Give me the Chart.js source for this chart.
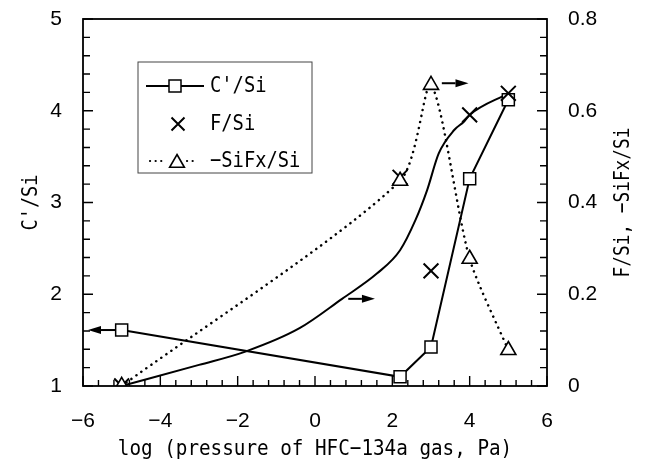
<!DOCTYPE html>
<html><head><meta charset="utf-8">
<script src="https://cdn.jsdelivr.net/npm/chart.js@4"></script>
<style>html,body{margin:0;padding:0;background:#fff}#wrap{width:647px;height:464px;position:relative}canvas{display:block}</style>
</head><body><div id="wrap"><canvas id="c" width="647" height="464" style="width:647px;height:464px"></canvas></div>
<script>
// ---- data ----
const pressureLog = [-5, 2.2, 3, 4, 5];
const cPrimeSi    = [1.61, 1.10, 1.425, 3.26, 4.12];
const fSi         = [0, 0.455, 0.251, 0.591, 0.638];
const siFxSi      = [0, 0.447, 0.656, 0.277, 0.078];
// hand-drawn trend curve through the F/Si data (right axis)
const fSiTrendX = [-5, -3, -1.8, -0.4, 0.7, 1.6, 2.2, 2.6, 2.9, 3.2, 3.6, 3.85, 4, 5];
const fSiTrendY = [0, 0.046, 0.075, 0.126, 0.19, 0.245, 0.296, 0.362, 0.427, 0.507, 0.558, 0.576, 0.591, 0.638];
const seriesNames = ["C'/Si", "F/Si", "\u2212SiFx/Si"];
const xTitle = "log (pressure of HFC\u2212134a gas, Pa)";
const yTitle = "C'/Si";
const y2Title = "F/Si, \u2212SiFx/Si";
// arrows: [x1, y1, x2, y2, axis]
const arrowSpecs = [
  [pressureLog[0], cPrimeSi[0], -5.87, cPrimeSi[0], 'y'],
  [3.28, 0.66, 3.97, 0.66, 'y2'],
  [0.86, 0.19, 1.55, 0.19, 'y2']
];

const MONO = '"DejaVu Sans Mono", monospace';
const SANS = '"Liberation Sans", Arial, sans-serif';
const pts = (xs, ys) => xs.map((x, i) => ({x, y: ys[i]}));

function isMult(v, step){ const r = v/step; return Math.abs(r - Math.round(r)) < 1e-6; }
function fmt(v){ return String(+v.toFixed(2)).replace('-', '\u2212'); }

function monoText(ctx, text, x, y, size, advance, rot, align){
  ctx.save();
  ctx.translate(x, y);
  if (rot) ctx.rotate(rot);
  ctx.scale(advance / (0.602 * size), 1);
  ctx.font = size + 'px ' + MONO;
  ctx.fillStyle = '#000';
  ctx.textAlign = align || 'center';
  ctx.textBaseline = 'middle';
  ctx.fillText(text, 0, 0);
  ctx.restore();
}

const framePlugin = {
  id: 'frame',
  beforeDatasetsDraw(chart){
    const ctx = chart.ctx;
    ctx.save();
    ctx.strokeStyle = '#000'; ctx.lineWidth = 2; ctx.fillStyle = '#000';
    arrowSpecs.forEach(([x1,y1,x2,y2,ax]) => {
      const sx = chart.scales.x, sy = chart.scales[ax];
      const p1x = sx.getPixelForValue(x1), p1y = sy.getPixelForValue(y1);
      const p2x = sx.getPixelForValue(x2), p2y = sy.getPixelForValue(y2);
      const ang = Math.atan2(p2y-p1y, p2x-p1x), L = 13, W = 4;
      const bx = p2x - Math.cos(ang)*L, by = p2y - Math.sin(ang)*L;
      ctx.beginPath(); ctx.moveTo(p1x,p1y); ctx.lineTo(bx,by); ctx.stroke();
      ctx.beginPath();
      ctx.moveTo(p2x,p2y);
      ctx.lineTo(bx - Math.sin(ang)*W, by + Math.cos(ang)*W);
      ctx.lineTo(bx + Math.sin(ang)*W, by - Math.cos(ang)*W);
      ctx.closePath(); ctx.fill();
    });
    ctx.restore();
  },
  afterDraw(chart){
    const ctx = chart.ctx, a = chart.chartArea;
    ctx.save();
    ctx.strokeStyle = '#000'; ctx.lineWidth = 1.8;
    ctx.strokeRect(a.left, a.top, a.right - a.left, a.bottom - a.top);
    ctx.lineWidth = 1.4;
    const sx = chart.scales.x, sy = chart.scales.y, s2 = chart.scales.y2;
    ctx.beginPath();
    sx.ticks.forEach(t => { const p = sx.getPixelForValue(t.value); const L = isMult(t.value,2)?10:6;
      ctx.moveTo(p, a.bottom); ctx.lineTo(p, a.bottom - L); });
    sy.ticks.forEach(t => { const p = sy.getPixelForValue(t.value); const L = isMult(t.value,1)?10:7;
      ctx.moveTo(a.left, p); ctx.lineTo(a.left + L, p); });
    s2.ticks.forEach(t => { const p = s2.getPixelForValue(t.value); const L = isMult(t.value,0.2)?10:7;
      ctx.moveTo(a.right, p); ctx.lineTo(a.right - L, p); });
    ctx.stroke();
    ctx.restore();

    const midY = (a.top + a.bottom) / 2, midX = (a.left + a.right) / 2;
    monoText(ctx, xTitle, midX, 449, 22, 11.6, 0);
    monoText(ctx, yTitle, 31, midY, 22, 11.2, -Math.PI/2);
    monoText(ctx, y2Title, 623, midY, 22, 10.7, -Math.PI/2);

    // legend box
    ctx.save();
    const lx = a.left + 55, ly = a.top + 43, lw = 174, lh = 111;
    ctx.fillStyle = '#fff'; ctx.fillRect(lx, ly, lw, lh);
    ctx.strokeStyle = '#444'; ctx.lineWidth = 1; ctx.strokeRect(lx, ly, lw, lh);
    const rows = [ly + 24, ly + 62, ly + 99];
    const sx0 = lx + 8, sx1 = lx + 66, mx = lx + 37;
    ctx.strokeStyle = '#000'; ctx.fillStyle = '#000';
    ctx.lineWidth = 2; ctx.beginPath(); ctx.moveTo(sx0, rows[0]); ctx.lineTo(sx1, rows[0]); ctx.stroke();
    ctx.fillStyle = '#fff'; ctx.fillRect(mx-6, rows[0]-6, 12, 12);
    ctx.lineWidth = 1.5; ctx.strokeRect(mx-6, rows[0]-6, 12, 12);
    ctx.lineWidth = 2; ctx.beginPath();
    const r2 = 6.5; const cx2 = mx + 3;
    ctx.moveTo(cx2-r2, rows[1]-r2); ctx.lineTo(cx2+r2, rows[1]+r2);
    ctx.moveTo(cx2+r2, rows[1]-r2); ctx.lineTo(cx2-r2, rows[1]+r2); ctx.stroke();
    ctx.lineWidth = 2.2; ctx.lineCap = 'round'; ctx.setLineDash([0.1, 5.5]);
    ctx.beginPath(); ctx.moveTo(sx0+4, rows[2]); ctx.lineTo(mx-10, rows[2]); ctx.moveTo(mx+12, rows[2]); ctx.lineTo(sx1-6, rows[2]); ctx.stroke();
    ctx.setLineDash([]); ctx.lineCap = 'butt'; ctx.lineWidth = 1.6;
    const tr = 8.5, tcx = mx + 2, tcy = rows[2] + 2;
    ctx.beginPath();
    for (let k = 0; k < 3; k++) { const ang = -Math.PI/2 + k*2*Math.PI/3; const px = tcx + Math.cos(ang)*tr, py = tcy + Math.sin(ang)*tr; k ? ctx.lineTo(px,py) : ctx.moveTo(px,py); }
    ctx.closePath(); ctx.fillStyle = '#fff'; ctx.fill(); ctx.stroke();
    ctx.restore();
    const tx = lx + 72;
    seriesNames.forEach((n, i) => monoText(ctx, n, tx, rows[i], 22, 11.3, 0, 'left'));
  }
};

const fitV = w => s => { s.width = w; s.paddingTop = 0; s.paddingBottom = 0; };
const tickFont = { family: SANS, size: 21 };

new Chart(document.getElementById('c'), {
  type: 'line',
  data: {
    datasets: [
      { label: seriesNames[0], data: pts(pressureLog, cPrimeSi), yAxisID: 'y',
        borderColor: '#000', borderWidth: 2, tension: 0,
        pointStyle: 'rect', pointRadius: 8.5, pointBackgroundColor: '#fff', pointBorderColor: '#000', pointBorderWidth: 1.5, order: 3 },
      { label: 'trend', data: pts(fSiTrendX, fSiTrendY), yAxisID: 'y2',
        borderColor: '#000', borderWidth: 2, pointRadius: 0, cubicInterpolationMode: 'monotone', order: 4 },
      { label: seriesNames[1], data: pts(pressureLog, fSi), yAxisID: 'y2', showLine: false,
        pointStyle: 'crossRot', pointRadius: 10.5, pointBorderColor: '#000', pointBorderWidth: 2, order: 2 },
      { label: seriesNames[2], data: pts(pressureLog, siFxSi), yAxisID: 'y2',
        borderColor: '#000', borderWidth: 2.5, borderDash: [0.1, 6], borderCapStyle: 'round', tension: 0.25,
        pointStyle: 'triangle', pointRadius: 8.7, pointBackgroundColor: '#fff', pointBorderColor: '#000', pointBorderWidth: 1.6, order: 1 }
    ]
  },
  options: {
    responsive: false, animation: false, devicePixelRatio: 1,
    layout: { padding: { top: 19, left: 0, right: 0, bottom: 0 } },
    plugins: { legend: { display: false }, tooltip: { enabled: false } },
    scales: {
      x: { type: 'linear', position: 'bottom', min: -6, max: 6,
        afterFit: s => { s.height = 78; s.paddingLeft = 0; s.paddingRight = 0; },
        grid: { display: false, drawTicks: false }, border: { display: false },
        ticks: { stepSize: 0.4, autoSkip: false, maxRotation: 0, padding: 23, color: '#000',
          font: tickFont, callback: v => isMult(v, 2) ? fmt(v) : '' } },
      y: { type: 'linear', position: 'left', min: 1, max: 5,
        afterFit: fitV(83),
        grid: { display: false, drawTicks: false }, border: { display: false },
        ticks: { stepSize: 0.2, autoSkip: false, padding: 21, color: '#000',
          font: tickFont, callback: v => isMult(v, 1) ? fmt(v) : '' } },
      y2: { type: 'linear', position: 'right', min: 0, max: 0.8,
        afterFit: fitV(100),
        grid: { display: false, drawTicks: false }, border: { display: false },
        ticks: { stepSize: 0.04, autoSkip: false, padding: 21, color: '#000',
          font: tickFont, callback: v => isMult(v, 0.2) ? fmt(v) : '' } }
    }
  },
  plugins: [framePlugin]
});
</script></body></html>
